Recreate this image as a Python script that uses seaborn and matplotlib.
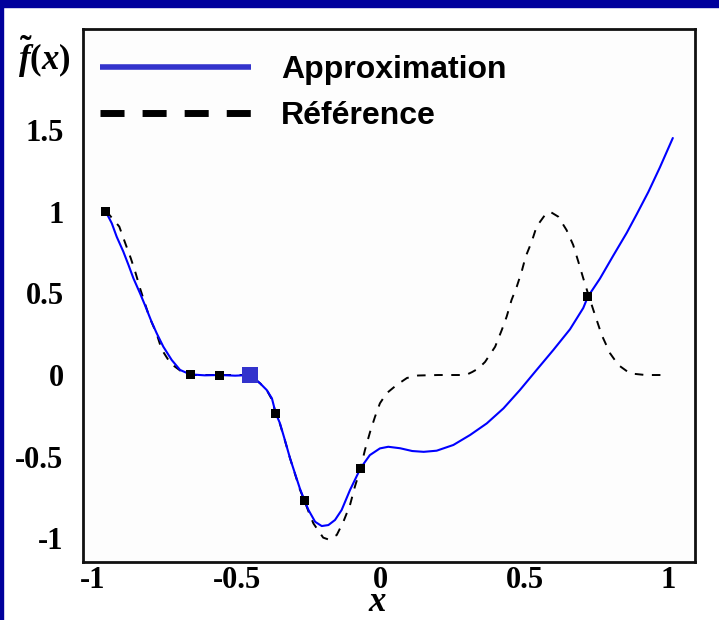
import matplotlib
matplotlib.use("Agg")
import matplotlib.pyplot as plt
from matplotlib.lines import Line2D
from matplotlib.patches import Rectangle
import seaborn as sns
import pandas as pd

# Approximation curve
approx_x = [-0.954, -0.933, -0.916, -0.893, -0.875, -0.858, -0.835, -0.818, -0.795, -0.777,
            -0.754, -0.725, -0.696, -0.661, -0.610, -0.560, -0.505, -0.453, -0.418, -0.395,
            -0.377, -0.364, -0.349, -0.332, -0.314, -0.297, -0.280, -0.264, -0.250, -0.227,
            -0.204, -0.181, -0.158, -0.135, -0.106, -0.069, -0.037, -0.002, 0.027, 0.068,
            0.110, 0.150, 0.195, 0.253, 0.311, 0.369, 0.427, 0.484, 0.542, 0.600,
            0.658, 0.704, 0.720, 0.762, 0.808, 0.855, 0.890, 0.930, 0.970, 1.015]
approx_y = [1.000, 0.928, 0.846, 0.755, 0.673, 0.592, 0.500, 0.428, 0.326, 0.255,
            0.173, 0.092, 0.031, 0.004, -0.002, 0.000, -0.004, 0.000, -0.051, -0.092,
            -0.143, -0.233, -0.296, -0.398, -0.510, -0.602, -0.694, -0.767, -0.826, -0.898,
            -0.924, -0.918, -0.887, -0.826, -0.704, -0.569, -0.490, -0.449, -0.439, -0.448,
            -0.465, -0.470, -0.463, -0.428, -0.367, -0.296, -0.204, -0.092, 0.031, 0.153,
            0.280, 0.410, 0.479, 0.590, 0.730, 0.870, 0.985, 1.120, 1.270, 1.450]

# Reference function
ref_x = [-0.953, -0.907, -0.887, -0.867, -0.850, -0.835, -0.820, -0.803, -0.777, -0.760,
         -0.729, -0.690, -0.661, -0.560, -0.453, -0.418, -0.395, -0.377, -0.364, -0.349,
         -0.332, -0.314, -0.297, -0.280, -0.264, -0.250, -0.233, -0.199, -0.181, -0.152,
         -0.129, -0.106, -0.089, -0.071, -0.054, -0.036, -0.019, -0.002, 0.021, 0.056,
         0.092, 0.130, 0.200, 0.280, 0.300, 0.318, 0.340, 0.363, 0.398, 0.421,
         0.438, 0.455, 0.473, 0.490, 0.504, 0.525, 0.542, 0.571, 0.589, 0.617,
         0.646, 0.669, 0.687, 0.704, 0.722, 0.739, 0.768, 0.797, 0.826, 0.866,
         0.920, 0.995]
ref_y = [1.004, 0.908, 0.810, 0.714, 0.622, 0.531, 0.449, 0.357, 0.251, 0.157,
         0.071, 0.020, 0.000, 0.000, 0.000, -0.051, -0.092, -0.150, -0.233, -0.300,
         -0.400, -0.510, -0.605, -0.700, -0.770, -0.835, -0.908, -0.995, -1.006, -0.979,
         -0.898, -0.796, -0.683, -0.581, -0.459, -0.347, -0.255, -0.173, -0.112, -0.061,
         -0.018, -0.003, 0.000, 0.000, 0.003, 0.018, 0.040, 0.080, 0.173, 0.275,
         0.357, 0.459, 0.540, 0.632, 0.724, 0.816, 0.908, 0.979, 0.999, 0.969,
         0.887, 0.796, 0.693, 0.592, 0.490, 0.398, 0.245, 0.133, 0.061, 0.010,
         0.000, 0.000]

# Sample points
sample_x = [-0.954, -0.659, -0.560, -0.364, -0.264, -0.069, 0.720]
sample_y = [1.001, 0.004, 0.000, -0.233, -0.766, -0.569, 0.479]
current_x = [-0.453]
current_y = [0.000]

x_ticks = [-1, -0.5, 0, 0.5, 1]
x_tick_labels = ["-1", "-0.5", "0", "0.5", "1"]
y_ticks = [-1, -0.5, 0, 0.5, 1, 1.5]
y_tick_labels = ["-1", "-0.5", "0", "0.5", "1", "1.5"]
legend_labels = ["Approximation", "Référence"]

sns.set_style("white")
plt.rcParams["font.family"] = ["Liberation Serif", "DejaVu Serif"]
plt.rcParams["mathtext.fontset"] = "custom"
plt.rcParams["mathtext.it"] = "Liberation Serif:italic:bold"
plt.rcParams["mathtext.rm"] = "Liberation Serif:bold"
plt.rcParams["mathtext.bf"] = "Liberation Serif:bold"
for key in ["text.color", "axes.labelcolor", "xtick.color", "ytick.color"]:
    plt.rcParams[key] = "black"

W, H = 719, 620
fig = plt.figure(figsize=(W / 100, H / 100), dpi=100, facecolor="white")
ax = fig.add_axes([83 / W, 1 - 562 / H, (695 - 83) / W, (562 - 29) / H])
ax.set_facecolor("#fdfdfd")

# slide frame
fig.add_artist(Rectangle((0, 1 - 7 / H), 1, 7 / H, transform=fig.transFigure,
                         color="#00009c", zorder=0))
fig.add_artist(Rectangle((0, 0), 3 / W, 1, transform=fig.transFigure,
                         color="#00009c", zorder=0))

ref_df = pd.DataFrame({"x": ref_x, "y": ref_y})
approx_df = pd.DataFrame({"x": approx_x, "y": approx_y})

sns.lineplot(data=ref_df, x="x", y="y", ax=ax, color="black", lw=1.4,
             linestyle=(0, (4.4, 4.4)), estimator=None, sort=False)
sns.lineplot(data=approx_df, x="x", y="y", ax=ax, color="#0000ff", lw=1.5,
             estimator=None, sort=False)
sns.scatterplot(x=sample_x, y=sample_y, ax=ax, marker="s", s=42, color="black",
                edgecolor="none", zorder=5)
sns.scatterplot(x=current_x, y=current_y, ax=ax, marker="s", s=120, color="#3333cc",
                edgecolor="none", zorder=6)

ax.set_xlim(-1.033, 1.092)
ax.set_ylim(-1.144, 2.117)
ax.set_xticks(x_ticks)
ax.set_xticklabels(x_tick_labels)
ax.set_yticks(y_ticks)
ax.set_yticklabels(y_tick_labels)
ax.tick_params(axis="both", length=0, labelsize=22)
ax.tick_params(axis="x", pad=3)
ax.tick_params(axis="y", pad=14)
for lab in ax.get_xticklabels() + ax.get_yticklabels():
    lab.set_fontweight("bold")

for sp in ax.spines.values():
    sp.set_visible(True)
    sp.set_color("#111111")
    sp.set_linewidth(2.0)

ax.set_xlabel("$x$", fontsize=25)
ax.xaxis.label.set_va("bottom")
ax.xaxis.set_label_coords((377 - 83) / 612, -(619 - 562) / 533)
ax.set_ylabel(r"$\tilde{f}(x)$", fontsize=25, rotation=0, ha="center")
ax.yaxis.label.set_va("baseline")
ax.yaxis.set_label_coords((44 - 83) / 612, (562 - 70) / 533)

handles = [
    Line2D([], [], color="#3333cc", lw=4.0, solid_capstyle="butt"),
    Line2D([], [], color="black", lw=5.0, linestyle=(0, (3.46, 2.6)),
           dash_capstyle="butt"),
]
ax.legend(handles, legend_labels, loc="upper left",
          bbox_to_anchor=(100 / W, 1 - 55 / H), bbox_transform=fig.transFigure,
          frameon=False, borderpad=0, borderaxespad=0,
          handlelength=4.73, handletextpad=0.94, labelspacing=0.5,
          prop={"family": "Liberation Sans", "weight": "bold", "size": 23})

fig.savefig("out.png", dpi=100, facecolor="white")
